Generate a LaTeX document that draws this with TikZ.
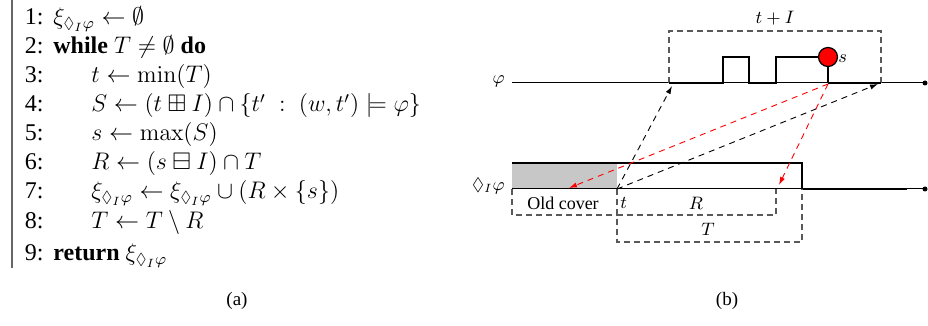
\documentclass[tikz,border=0pt]{standalone}
\usepackage{amssymb}
\usepackage[no-math]{fontspec}
\setmainfont{Liberation Serif}
\usetikzlibrary{arrows.meta}
\begin{document}
\begin{tikzpicture}[x=0.5pt,y=-0.5pt,
  num/.style={anchor=base east, inner sep=0pt, font=\fontsize{12}{14.5}\selectfont},
  stmt/.style={anchor=base west, inner sep=0pt, font=\fontsize{12}{14.5}\selectfont},
  lbl/.style={inner sep=0pt, font=\fontsize{9}{10}\selectfont},
  captext/.style={inner sep=0pt, font=\fontsize{9.5}{11}\selectfont},
  sigline/.style={line width=0.5pt},
  sigthick/.style={line width=1.4pt},
  boxdash/.style={dashed, black!65, line width=0.55pt, dash pattern=on 3pt off 2pt},
  blkarrow/.style={dashed, black, line width=0.45pt, dash pattern=on 3pt off 2.5pt, -{Latex[length=4pt,width=2.6pt]}},
  redarrow/.style={dashed, red, line width=0.45pt, dash pattern=on 3pt off 2.5pt, -{Latex[length=4pt,width=2.6pt]}},
  enddot/.style={circle, fill=black, inner sep=0pt, minimum size=2.5pt}
]
\useasboundingbox (0,0) rectangle (928,326);

% ---------- (a) algorithm ----------
\draw[black!60, line width=0.6pt] (12,0) coordinate (bartop) -- (12,268) coordinate (barbot);
\node[num] (n1) at (44,25) {1:};
\node[stmt] (s1) at (53,25) {$\xi_{\Diamond_I\varphi} \gets \emptyset$};
\node[num] (n2) at (44,54) {2:};
\node[stmt] (s2) at (53,54) {\textbf{while} $T \neq \emptyset$ \textbf{do}};
\node[num] (n3) at (44,83) {3:};
\node[stmt] (s3) at (91,83) {$t \gets \min(T)$};
\node[num] (n4) at (44,112) {4:};
\node[stmt] (s4) at (91,112) {$S \gets (t \boxplus I) \cap \{t' \;:\; (w,t') \models \varphi\}$};
\node[num] (n5) at (44,141) {5:};
\node[stmt] (s5) at (91,141) {$s \gets \max(S)$};
\node[num] (n6) at (44,170) {6:};
\node[stmt] (s6) at (91,170) {$R \gets (s \boxminus I) \cap T$};
\node[num] (n7) at (44,199) {7:};
\node[stmt] (s7) at (91,199) {$\xi_{\Diamond_I\varphi} \gets \xi_{\Diamond_I\varphi} \cup (R \times \{s\})$};
\node[num] (n8) at (44,228) {8:};
\node[stmt] (s8) at (91,228) {$T \gets T \setminus R$};
\node[num] (n9) at (44,261) {9:};
\node[stmt] (s9) at (53,261) {\textbf{return} $\xi_{\Diamond_I\varphi}$};

\node[captext] (capa) at (237,301) {(a)};
\node[captext] (capb) at (727,301) {(b)};

% ---------- (b) diagram ----------
% phi signal
\node[lbl, anchor=east] (philbl) at (505,81) {$\varphi$};
\draw[sigline] (512,83) coordinate (phistart) -- (925,83) node[enddot] (phidot) {};
\draw[boxdash] (669,83) -- (669,31) -- (881,31) -- (881,83);
\node[lbl] (tplusI) at (775,18) {$t + I$};
\draw[sigthick] (669,83) -- (723,83) -- (723,57) -- (749,57) -- (749,83) -- (776,83) -- (776,57) -- (819,57);
\draw[line width=0.9pt] (828,66) -- (828,83);
\draw[sigthick] (828,83) -- (881,83);
\node[circle, draw=black, fill=red, line width=0.6pt, inner sep=0pt, minimum size=9.5pt] (sdot) at (828,57) {};
\node[lbl, anchor=west] (slbl) at (838,59) {$s$};

% diamond signal
\node[lbl, anchor=east] (dlbl) at (505,186) {$\Diamond_I\varphi$};
\fill[black!22] (512,163) rectangle (617,189);
\draw[sigline] (512,189) -- (925,189) node[enddot] (ddot) {};
\draw[sigthick] (512,163) -- (802,163) -- (802,189) -- (907,189);

% dashed boxes
\draw[boxdash] (512,189) -- (512,215) -- (617,215);
\draw[boxdash] (617,189) -- (617,242) -- (802,242) -- (802,189);
\draw[boxdash] (617,215) -- (776,215) -- (776,189);
\node[lbl] (oldcover) at (563,203) {Old cover};
\node[lbl, anchor=west] (tlbl) at (620,203) {$t$};
\node[lbl] (Rlbl) at (696,203) {$R$};
\node[lbl] (Tlbl) at (708,229) {$T$};

% arrows
\coordinate (tpt) at (617,189);
\coordinate (spt) at (828,84);
\coordinate (phiL) at (672,86);
\coordinate (phiR) at (878,84);
\coordinate (oldtip) at (569,188);
\coordinate (Rtip) at (779,185);
\draw[blkarrow] (tpt) -- (phiL);
\draw[blkarrow] (tpt) -- (phiR);
\draw[redarrow] (spt) -- (oldtip);
\draw[redarrow] (spt) -- (Rtip);
\end{tikzpicture}
\end{document}
